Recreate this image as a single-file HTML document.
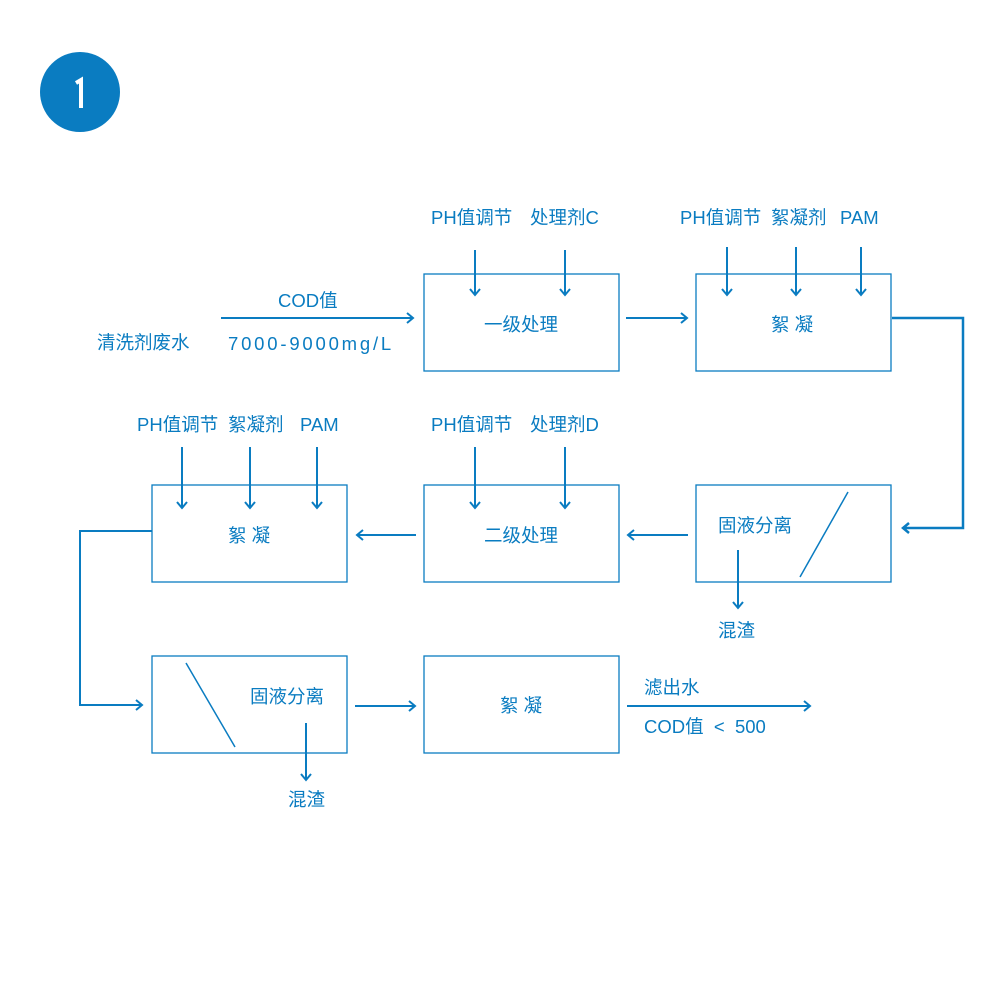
<!DOCTYPE html>
<html><head><meta charset="utf-8"><style>
body{margin:0;background:#fff}
svg text{font-family:"Liberation Sans","Noto Sans CJK SC",sans-serif;font-size:18.5px;fill:#0a7cc1}
</style></head><body>
<svg width="1000" height="1000" viewBox="0 0 1000 1000" xmlns="http://www.w3.org/2000/svg">
<circle cx="80" cy="92" r="40" fill="#0a7cc1"/>
<path d="M76 83 L81 80 L81 108" stroke="#fff" stroke-width="4" fill="none"/>
<g fill="none" stroke="#0a7cc1" stroke-width="1.3">
<rect x="424" y="274" width="195" height="97"/>
<rect x="696" y="274" width="195" height="97"/>
<rect x="696" y="485" width="195" height="97"/>
<rect x="424" y="485" width="195" height="97"/>
<rect x="152" y="485" width="195" height="97"/>
<rect x="152" y="656" width="195" height="97"/>
<rect x="424" y="656" width="195" height="97"/>
</g>
<g fill="none" stroke="#0a7cc1" stroke-width="2">
<path d="M475 250V295M470 289l5 6 5-6"/>
<path d="M565 250V295M560 289l5 6 5-6"/>
<path d="M727 247V295M722 289l5 6 5-6"/>
<path d="M796 247V295M791 289l5 6 5-6"/>
<path d="M861 247V295M856 289l5 6 5-6"/>
<path d="M475 447V508M470 502l5 6 5-6"/>
<path d="M565 447V508M560 502l5 6 5-6"/>
<path d="M182 447V508M177 502l5 6 5-6"/>
<path d="M250 447V508M245 502l5 6 5-6"/>
<path d="M317 447V508M312 502l5 6 5-6"/>
<path d="M738 550V608M733 602l5 6 5-6"/>
<path d="M306 723V780M301 774l5 6 5-6"/>
<path d="M221 318H413M407 313l6 5-6 5"/>
<path d="M626 318H687M681 313l6 5-6 5"/>
<path d="M892 318H963V528H903M909 523l-6 5 6 5" stroke-width="2.5"/>
<path d="M688 535H628M634 530l-6 5 6 5"/>
<path d="M416 535H357M363 530l-6 5 6 5"/>
<path d="M152 531H80V705H142M136 700l6 5-6 5"/>
<path d="M355 706H415M409 701l6 5-6 5"/>
<path d="M627 706H810M804 701l6 5-6 5"/>
<path d="M800 577L848 492" stroke-width="1.5"/>
<path d="M186 663L235 747" stroke-width="1.5"/>
</g>
<text x="431" y="224">PH值调节</text>
<text x="530" y="224">处理剂C</text>
<text x="680" y="224">PH值调节</text>
<text x="771" y="224">絮凝剂</text>
<text x="840" y="224">PAM</text>
<text x="278" y="307">COD值</text>
<text x="97" y="349">清洗剂废水</text>
<text x="228" y="350" style="letter-spacing:2.8px">7000-9000mg/L</text>
<text x="484" y="331">一级处理</text>
<text x="771" y="331">絮 凝</text>
<text x="137" y="431">PH值调节</text>
<text x="228" y="431">絮凝剂</text>
<text x="300" y="431">PAM</text>
<text x="431" y="431">PH值调节</text>
<text x="530" y="431">处理剂D</text>
<text x="228" y="542">絮 凝</text>
<text x="484" y="542">二级处理</text>
<text x="718" y="532">固液分离</text>
<text x="718" y="637">混渣</text>
<text x="250" y="703">固液分离</text>
<text x="500" y="712">絮 凝</text>
<text x="288" y="806">混渣</text>
<text x="644" y="694">滤出水</text>
<text x="644" y="733" xml:space="preserve">COD值  &lt;  500</text>
</svg>
</body></html>
